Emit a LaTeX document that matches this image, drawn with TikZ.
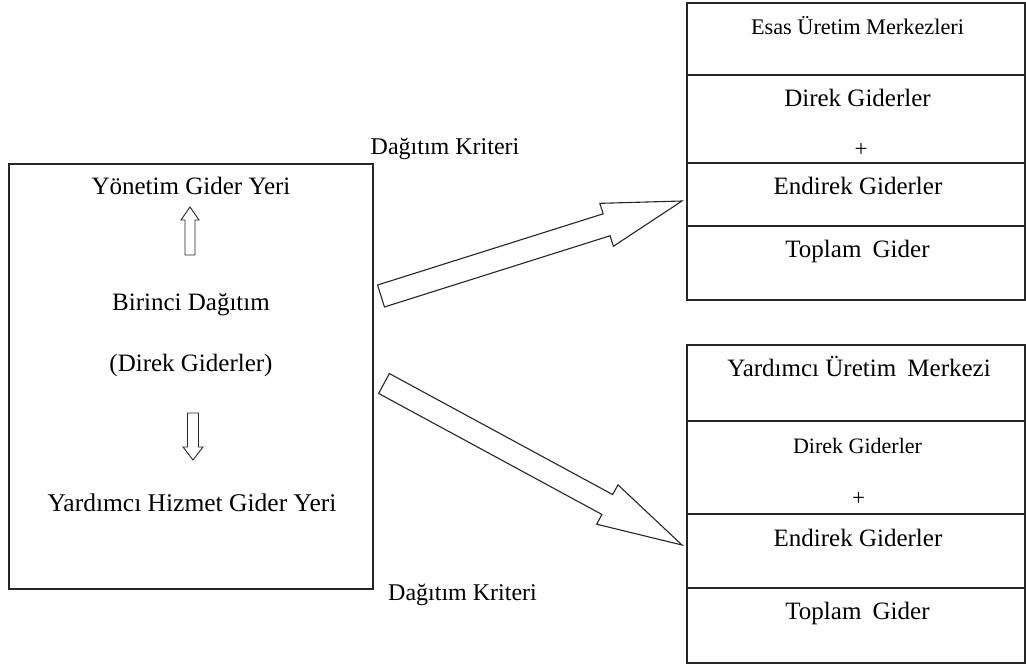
\documentclass[tikz,border=0pt]{standalone}
\usepackage{fontspec}
\setmainfont{Liberation Serif}
\usetikzlibrary{calc}
\begin{document}
\begin{tikzpicture}[x=1pt,y=-1pt,
  box/.style={draw=black!85, line width=1.3pt},
  blk/.style={draw=black!85, line width=1.1pt, fill=white, line join=miter},
  lbl/.style={anchor=base, inner sep=0pt, font=\fontsize{25}{29}\selectfont},
  lblk/.style={anchor=base, inner sep=0pt, font=\fontsize{24}{28}\selectfont},
  lbls/.style={anchor=base, inner sep=0pt, font=\fontsize{22.3}{26}\selectfont},
  lblp/.style={anchor=center, inner sep=0pt, font=\fontsize{23}{26}\selectfont}]
\useasboundingbox (0,0) rectangle (1026,666);
% left box
\draw[box] (9,164) rectangle (373,589);
\node[lbl] (yon) at (191,195) {Yönetim Gider Yeri};
\node[lbl] (bir) at (191,310.7) {Birinci Dağıtım};
\node[lbl] (dir) at (191,371.7) {(Direk Giderler)};
\node[lbl, font=\fontsize{25.5}{29}\selectfont] (yhg) at (192,511.7) {Yardımcı Hizmet Gider Yeri};
% small block arrows
\draw[blk, line width=0.9pt] (190,207) -- (199,220) -- (195,220) -- (195,255) -- (185,255) -- (185,220) -- (181,220) -- cycle;
\draw[blk, line width=0.9pt] (193,460) -- (203,447) -- (198.5,447) -- (198.5,413) -- (187.5,413) -- (187.5,447) -- (183,447) -- cycle;
% top right box
\draw[box] (687,3) rectangle (1025,300);
\draw[box] (687,75) -- (1025,75);
\draw[box] (687,163) -- (1025,163);
\draw[box] (687,226) -- (1025,226);
\node[lbls] (esas) at (857.5,35) {Esas Üretim Merkezleri};
\node[lbl] (d1) at (857.5,107) {Direk Giderler};
\node[lblp] (p1) at (861,150) {+};
\node[lbl] (e1) at (858,195) {Endirek Giderler};
\node[lbl] (t1) at (857.5,257) {Toplam\hspace{0.2em} Gider};
% bottom right box
\draw[box] (687,345) rectangle (1025,663);
\draw[box] (687,421) -- (1025,421);
\draw[box] (687,514) -- (1025,514);
\draw[box] (687,588) -- (1025,588);
\node[lbl] (yar) at (859,376.7) {Yardımcı Üretim\hspace{0.2em} Merkezi};
\node[font=\fontsize{22}{26}\selectfont, anchor=base, inner sep=0pt] (d2) at (857.5,453) {Direk Giderler};
\node[lblp] (p2) at (858.5,499) {+};
\node[lbl] (e2) at (858,546.7) {Endirek Giderler};
\node[lbl] (t2) at (857.5,619) {Toplam\hspace{0.2em} Gider};
% criteria labels
\node[lblk] (k1) at (445,155) {Dağıtım Kriteri};
\node[lblk] (k2) at (462.5,600.7) {Dağıtım Kriteri};
% big block arrows
\coordinate (T1) at (381,296);
\coordinate (P1) at (682,201);
\coordinate (B1) at ($(T1)!236.6pt!(P1)$);
\draw[blk] ($(T1)!11.5pt!90:(P1)$) -- ($(B1)!11.5pt!90:(P1)$) -- ($(B1)!22.5pt!90:(P1)$) -- (P1)
  -- ($(B1)!22.5pt!-90:(P1)$) -- ($(B1)!11.5pt!-90:(P1)$) -- ($(T1)!11.5pt!-90:(P1)$) -- cycle;
\coordinate (T2) at (384,383.5);
\coordinate (P2) at (682,545);
\coordinate (B2) at ($(T2)!254pt!(P2)$);
\draw[blk] ($(T2)!11.3pt!90:(P2)$) -- ($(B2)!11.3pt!90:(P2)$) -- ($(B2)!22.4pt!90:(P2)$) -- (P2)
  -- ($(B2)!22.4pt!-90:(P2)$) -- ($(B2)!11.3pt!-90:(P2)$) -- ($(T2)!11.3pt!-90:(P2)$) -- cycle;
\end{tikzpicture}
\end{document}
